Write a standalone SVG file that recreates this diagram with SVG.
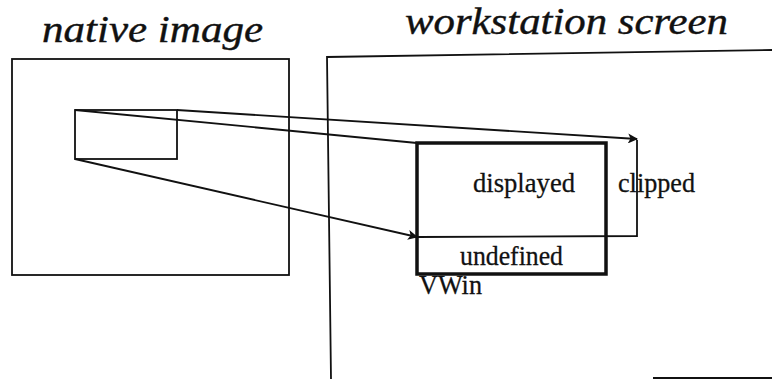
<svg xmlns="http://www.w3.org/2000/svg" width="772" height="379" viewBox="0 0 772 379">
  <style>
    .title { font-family: "Liberation Serif", "Times New Roman", serif; font-style: italic; font-size: 38px; fill: #111; stroke: #111; stroke-width: 0.4; }
    .lbl { font-family: "Liberation Serif", "Times New Roman", serif; font-size: 28px; fill: #111; stroke: #111; stroke-width: 0.3; }
    .thin { fill: none; stroke: #111; stroke-width: 1.8; }
    .thick { fill: none; stroke: #111; stroke-width: 3.5; }
  </style>
  <defs>
    <marker id="arrow" viewBox="0 0 10 10" refX="9" refY="5" markerWidth="11" markerHeight="10" orient="auto" markerUnits="userSpaceOnUse">
      <path d="M0,0 L10,5 L0,10 L2.5,5 Z" fill="#111"/>
    </marker>
  </defs>
  <rect width="772" height="379" fill="#fff"/>

  <g id="native-image">
    <text class="title" x="42" y="42" textLength="221" lengthAdjust="spacingAndGlyphs">native image</text>
    <rect class="thin" x="12" y="59" width="277" height="216"/>
  </g>

  <g id="source-region">
    <rect class="thin" x="75" y="110" width="102" height="49"/>
  </g>

  <g id="workstation-screen">
    <text class="title" x="405" y="34" textLength="323" lengthAdjust="spacingAndGlyphs">workstation screen</text>
    <polyline class="thin" points="772,50 327,57 331,379"/>
    <line class="thin" x1="653" y1="378" x2="772" y2="378"/>
  </g>

  <g id="clipped">
    <polyline class="thin" points="417,237 637,236 637,140"/>
    <text class="lbl" x="618" y="192" textLength="77" lengthAdjust="spacingAndGlyphs">clipped</text>
  </g>

  <g id="vwin">
    <rect class="thick" x="417" y="143" width="189" height="131"/>
    <text class="lbl" x="473" y="192" textLength="102" lengthAdjust="spacingAndGlyphs">displayed</text>
    <text class="lbl" x="460" y="265" textLength="103" lengthAdjust="spacingAndGlyphs">undefined</text>
    <text class="lbl" x="419" y="294" textLength="63" lengthAdjust="spacingAndGlyphs">VWin</text>
  </g>

  <g id="connectors">
    <line class="thin" x1="75" y1="110" x2="417" y2="143"/>
    <line class="thin" x1="177" y1="110" x2="637" y2="139" marker-end="url(#arrow)"/>
    <line class="thin" x1="75" y1="159" x2="417" y2="237" marker-end="url(#arrow)"/>
  </g>
</svg>
